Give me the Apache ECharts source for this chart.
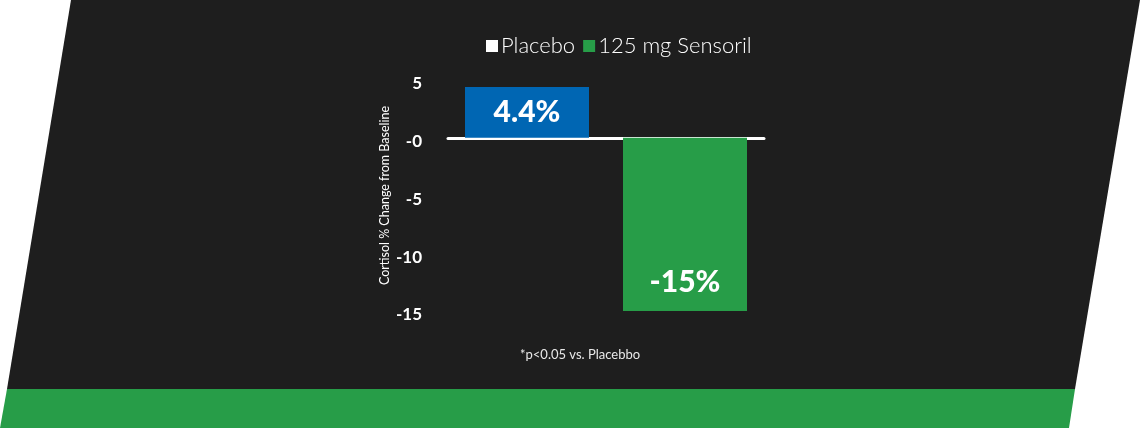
<!DOCTYPE html>
<html>
<head>
<meta charset="utf-8">
<style>
html,body{margin:0;padding:0;background:#ffffff;}
#chart{width:1140px;height:428px;}
</style>
<script src="https://cdn.jsdelivr.net/npm/echarts@6/dist/echarts.min.js"></script>
</head>
<body>
<div id="chart"></div>
<script>
var categories = ['Placebo', '125 mg Sensoril'];
var seriesNames = ['Placebo', '125 mg Sensoril'];
var placeboValues = [4.4, '-'];
var sensorilValues = ['-', -15];
var barLabels = ['4.4%', '-15%'];
var yTicks = [5, 0, -5, -10, -15];
var yTickLabels = {'5': '5', '0': '-0', '-5': '-5', '-10': '-10', '-15': '-15'};
var yAxisName = 'Cortisol % Change from Baseline';
var footnote = '*p<0.05 vs. Placebbo';

var chart = echarts.init(document.getElementById('chart'));
var FONT = 'Lato, "Open Sans", sans-serif';
var option = {
  backgroundColor: 'transparent',
  animation: false,
  graphic: [
    {type: 'polygon', z: -10, silent: true,
     shape: {points: [[71, 0], [1140, 0], [1075, 389], [7, 389]]},
     style: {fill: '#1e1e1e'}},
    {type: 'polygon', z: -10, silent: true,
     shape: {points: [[7, 389], [1075, 389], [1069, 428], [0, 428]]},
     style: {fill: '#279d48'}},
    {type: 'text', left: 520, top: 348, silent: true,
     style: {text: footnote, fill: '#e8e8e8', font: '13px ' + FONT}}
  ],
  legend: {
    left: 481, top: 30,
    itemWidth: 12, itemHeight: 12, itemGap: 8,
    icon: 'rect',
    textStyle: {color: '#ffffff', fontSize: 22, fontFamily: FONT, fontWeight: 300, padding: [0, 0, 0, -2]},
    data: [
      {name: seriesNames[0], itemStyle: {color: '#ffffff'}},
      {name: seriesNames[1], itemStyle: {color: '#279d48'}}
    ]
  },
  grid: {left: 448, width: 316, top: 80, bottom: 117},
  xAxis: {
    type: 'category',
    data: categories,
    axisLine: {show: true, onZero: true, lineStyle: {color: '#ffffff', width: 3}},
    axisTick: {show: false},
    axisLabel: {show: false}
  },
  yAxis: {
    type: 'value', min: -15, max: 5, interval: 5,
    name: yAxisName, nameLocation: 'middle', nameGap: 57,
    nameTextStyle: {color: '#ffffff', fontSize: 12.5, fontFamily: FONT},
    axisLine: {show: false}, axisTick: {show: false}, splitLine: {show: false},
    axisLabel: {
      color: '#ffffff', fontSize: 17, fontWeight: 'bold', fontFamily: FONT, margin: 26,
      verticalAlign: 'top', lineHeight: 8,
      formatter: function (v) { return yTickLabels[String(v)] !== undefined ? yTickLabels[String(v)] : ''; }
    }
  },
  series: [
    {
      name: seriesNames[0], type: 'bar', stack: 'all', barWidth: 124,
      data: placeboValues,
      itemStyle: {color: '#0066b3'},
      label: {show: true, position: 'inside', formatter: barLabels[0], color: '#ffffff',
        fontSize: 30, fontWeight: 900, fontFamily: FONT}
    },
    {
      name: seriesNames[1], type: 'bar', stack: 'all', barWidth: 124,
      data: sensorilValues,
      itemStyle: {color: '#279d48'},
      label: {show: true, position: 'inside', offset: [0, 58], formatter: barLabels[1], color: '#ffffff',
        fontSize: 30, fontWeight: 900, fontFamily: FONT}
    }
  ]
};
chart.setOption(option);
</script>
</body>
</html>
